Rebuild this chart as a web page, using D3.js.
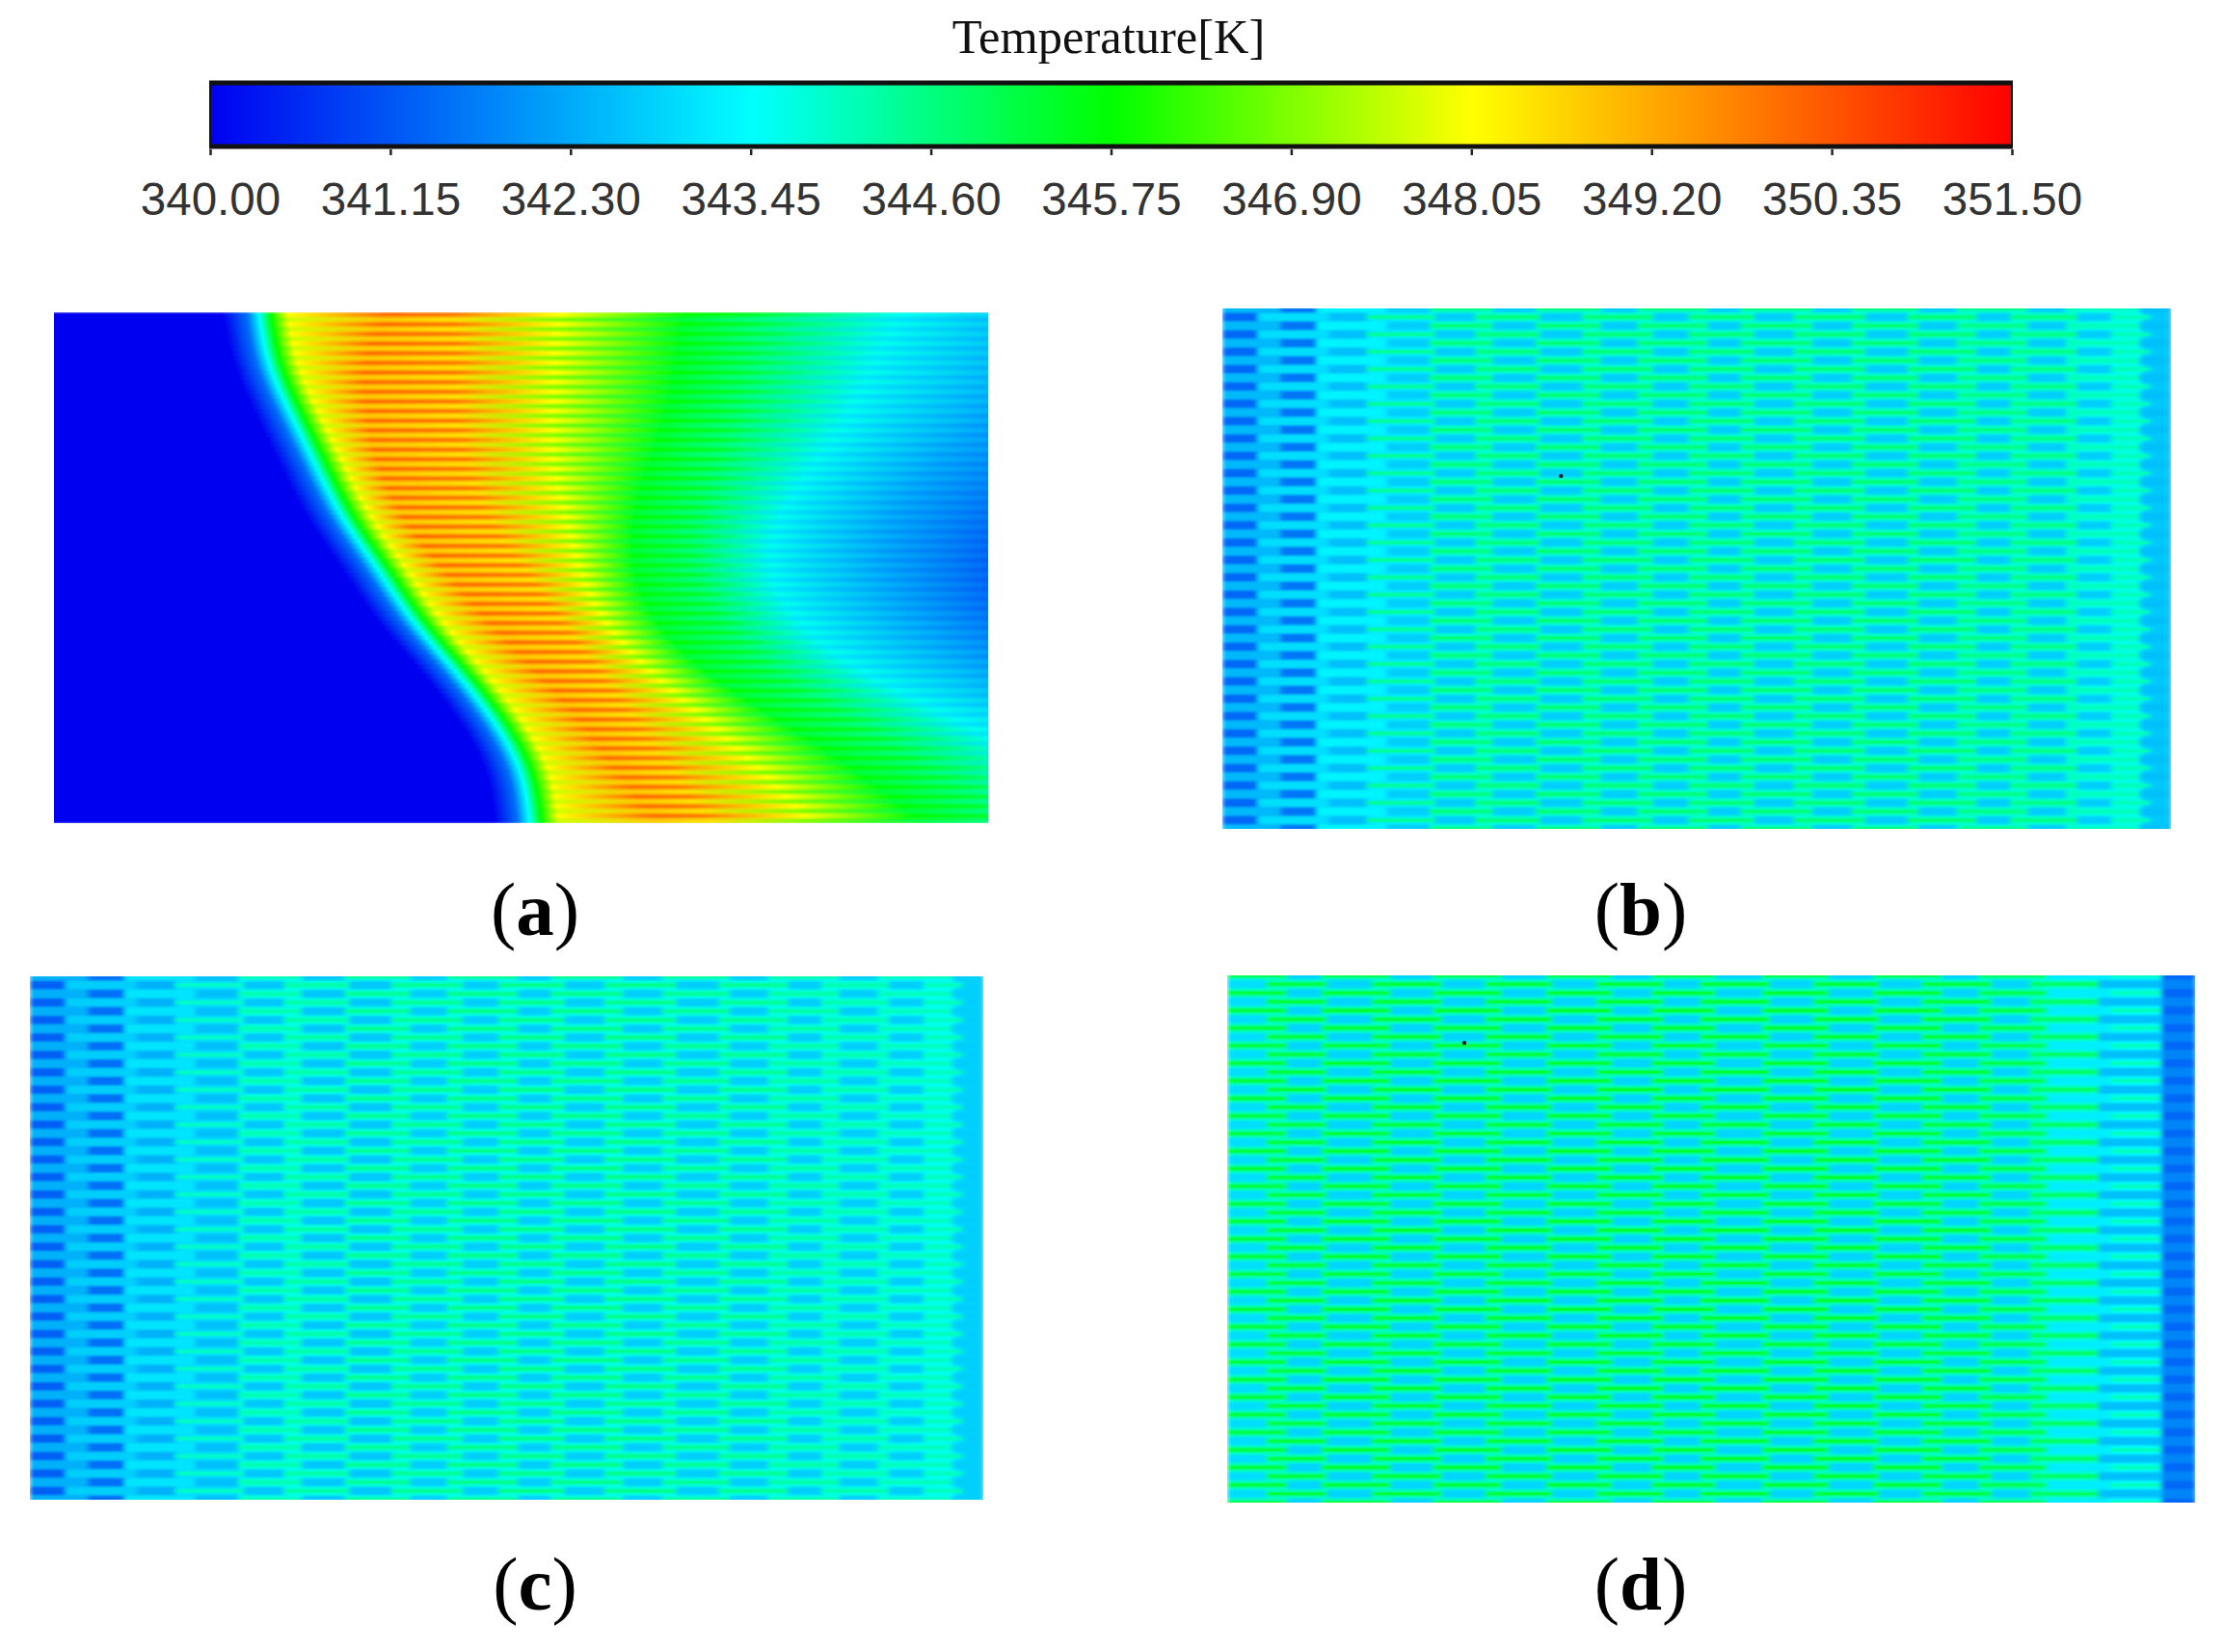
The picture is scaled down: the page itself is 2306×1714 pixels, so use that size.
<!DOCTYPE html>
<html>
<head>
<meta charset="utf-8">
<script src="https://cdn.jsdelivr.net/npm/d3@7"></script>
<style>
    body { margin: 0; background: #fff; }
    svg { display: block; }
</style>
</head>
<body>
<svg></svg>
<script>
// colour bar
const tickTemps = [340.00, 341.15, 342.30, 343.45, 344.60, 345.75, 346.90, 348.05, 349.20, 350.35, 351.50];
const colourTemps = [340, 343.45, 345.75, 348.05, 351.5];
const colourNames = ["#0000f0", "#00ffff", "#00ff00", "#ffff00", "#ff0000"];

// panel (a): isotherm positions (% of channel length), read every 10% of the channel width
const blueEdge = [18, 19, 21.5, 24.2, 26.8, 30.8, 34.2, 39.2, 43.5, 46.6, 47.2];
const iso3415 = [20.6, 21.4, 24, 26.7, 29.3, 33.3, 36.7, 41.6, 45.9, 49, 49.6];
const isoCyan = [21.9, 22.7, 25.3, 28, 30.6, 34.6, 38, 42.9, 47.2, 50.3, 50.9];
const isoFront = [23.2, 24, 26.6, 29.3, 31.9, 35.9, 39.3, 44.2, 48.5, 51.6, 52.2];
const isoYellow = [25, 25.8, 28.4, 31.1, 33.7, 37.7, 41.1, 46, 50.3, 53.4, 54];
const isoPeak = [35.7, 32.8, 33.5, 34.6, 37.1, 41.5, 46.2, 51.6, 56.7, 60.3, 64.7];
const isoPeakEnd = [43, 43, 43, 44, 46, 50, 54, 58, 62, 66, 70];
const isoYellow2 = [54, 53.7, 53.3, 53.3, 54.8, 56.2, 58.4, 63.5, 70, 76, 81];
const isoGreen = [67.6, 66.8, 65.8, 63.6, 62.1, 61.8, 63.9, 69, 77.7, 86.4, 93];
const isoGreen2 = [74.6, 73.8, 72.8, 70.6, 68.6, 67.8, 70.9, 76, 85.7, 94.4, 101];
const isoCyan2 = [90.6, 87.7, 85.5, 81.2, 77.5, 76.1, 79, 85.5, 97.1, 107, 122];
const iso3423 = [108, 105, 100, 94, 89, 88, 91, 99, 112, 126, 145];
const iso3414 = [130, 125, 118, 110, 103, 100, 103, 113, 128, 145, 170];

// panel (a): temperature at each isotherm, for the hot rows and the cooler rows between them
const crestTemps = [340, 341.5, 343.45, 345.75, 348.05, 350, 349.8, 348.05, 345.75, 345.4, 343.6, 342.4, 341.4];
const troughTemps = [340, 341.5, 343.45, 345.75, 347.6, 348.8, 348.5, 346.9, 345.2, 344.6, 343.1, 342.1, 341.2];

// panels (b), (c): brick edges (% of channel length) of the two alternating row types
const edgesRowA = [0, 3.7, 11.2, 15.2, 22.4, 26.6, 33.5, 37.9, 45.4, 49.1, 56.1, 60.2, 67.8, 72.2, 79.5, 83, 90.1, 93.7, 97.8, 100];
const edgesRowB = [0, 6.1, 9.9, 17.3, 21.8, 28.5, 33, 39.9, 43.7, 51.2, 54.6, 62.2, 66.3, 73.4, 77.4, 84.9, 88.9, 96.7, 100];
const tempsBRowA = [341.4, 343, 342.6, 344.5, 342.8, 344.7, 342.8, 344.8, 342.8, 344.8, 342.8, 344.8, 342.8, 344.8, 342.8, 344.6, 342.8, 344.1, 342.7];
const tempsBRowB = [342.5, 341.6, 343.3, 342.8, 344.7, 342.8, 344.8, 342.8, 344.8, 342.8, 344.8, 342.8, 344.8, 342.8, 344.6, 342.8, 344.1, 342.6];
const tempsCRowA = [341.3, 342.8, 342.4, 344, 342.7, 344.3, 342.7, 344.5, 342.8, 344.6, 342.8, 344.6, 342.8, 344.5, 342.8, 344.2, 342.8, 344.1, 342.8];
const tempsCRowB = [342.4, 341.5, 343.1, 342.6, 344.2, 342.7, 344.5, 342.8, 344.6, 342.8, 344.6, 342.8, 344.5, 342.8, 344.3, 342.8, 344.1, 342.8];

// the cooler walls between rows, by stretch of the channel
const wallEdges = [0, 6, 10, 15, 22, 90, 97, 100];
const wallTempsB = [342.2, 342.2, 342.9, 343.2, 343.9, 343.7, 342.8];
const wallTempsC = [342.2, 342.2, 342.8, 343, 343.7, 343.6, 343];
const wallEdgesD = [0, 84, 91, 96.5, 100];
const wallTempsD = [344, 343.9, 343.4, 341.9];

// panel (d)
const edgesDRowA = [0, 4, 10.3, 14.9, 22.2, 26.6, 33.6, 38.1, 45.1, 48.8, 56.1, 60.5, 67.4, 71.7, 79, 82.9, 90, 96.6, 100];
const edgesDRowB = [0, 6.2, 9.7, 16.9, 21.2, 28.4, 32.9, 39.8, 43.8, 50.5, 55.2, 62.2, 66.7, 73.9, 77.6, 84.7, 91.3, 96.5, 100];
const tempsDRowA = [343, 345.5, 342.9, 345.6, 342.9, 345.6, 342.9, 345.7, 342.9, 345.7, 342.9, 345.7, 342.9, 345.5, 342.9, 345, 342.6, 341.8];
const tempsDRowB = [345.5, 342.9, 345.6, 342.9, 345.6, 342.9, 345.7, 342.9, 345.7, 342.9, 345.7, 342.9, 345.6, 342.9, 345.2, 343.2, 344.1, 341.4];

// the small black probe dots, [% length, % width]
const dotsB = [[35.7, 32.2]];
const dotsD = [[24.5, 12.8]];

const width = 2306;
const height = 1714;

const svg = d3.select("svg")
    .attr("width", width)
    .attr("height", height);

const defs = svg.append("defs");

const colour = d3.scaleLinear()
    .domain(colourTemps)
    .range(colourNames)
    .clamp(true);

function addBlur(id, dev) {
    defs.append("filter")
        .attr("id", id)
        .attr("filterUnits", "userSpaceOnUse")
        .attr("x", 0).attr("y", 0)
        .attr("width", width).attr("height", height)
        .append("feGaussianBlur")
        .attr("stdDeviation", dev);
}
addBlur("blurA", "0.6 1.2");
addBlur("blurBricks", "2.5 1.2");

function addPanelGroup(id, box) {
    defs.append("clipPath").attr("id", "clip" + id)
        .append("rect")
        .attr("x", box.left).attr("y", box.top)
        .attr("width", box.right - box.left)
        .attr("height", box.bottom - box.top);
    return svg.append("g").attr("clip-path", `url(#clip${id})`);
}

// ---- colour bar ----
const bar = { left: 218, right: 2087, top: 85, bottom: 153 };
const barX = d3.scaleLinear()
    .domain([tickTemps[0], tickTemps[tickTemps.length - 1]])
    .range([bar.left, bar.right]);

const barGrad = defs.append("linearGradient")
    .attr("id", "barGrad")
    .attr("gradientUnits", "userSpaceOnUse")
    .attr("x1", bar.left).attr("x2", bar.right)
    .attr("y1", 0).attr("y2", 0);
barGrad.selectAll("stop")
    .data(colourTemps)
    .enter().append("stop")
    .attr("offset", d => (barX(d) - bar.left) / (bar.right - bar.left))
    .attr("stop-color", d => colour(d));

svg.append("rect")
    .attr("x", bar.left).attr("y", bar.top)
    .attr("width", bar.right - bar.left)
    .attr("height", bar.bottom - bar.top)
    .attr("fill", "url(#barGrad)")
    .attr("stroke", "#111")
    .attr("stroke-width", 2);
svg.selectAll(".barEdge")
    .data([bar.top + 1, bar.bottom - 1])
    .enter().append("line")
    .attr("class", "barEdge")
    .attr("x1", bar.left - 1).attr("x2", bar.right + 1)
    .attr("y1", d => d).attr("y2", d => d)
    .attr("stroke", "#111")
    .attr("stroke-width", 5);

const barAxis = svg.append("g")
    .attr("transform", `translate(0,${bar.bottom + 2})`)
    .call(d3.axisBottom(barX)
        .tickValues(tickTemps)
        .tickFormat(d3.format(".2f"))
        .tickSize(6)
        .tickPadding(28));
barAxis.select(".domain").remove();
barAxis.selectAll("line").attr("stroke", "#222").attr("stroke-width", 2.5);
barAxis.selectAll("text")
    .attr("fill", "#333")
    .style("font-family", "'Liberation Sans'")
    .style("font-size", "47.5px");

svg.append("text")
    .attr("x", 1150).attr("y", 55)
    .attr("text-anchor", "middle")
    .style("font-family", "'Liberation Serif'")
    .style("font-size", "50.5px")
    .attr("fill", "#111")
    .text("Temperature[K]");

// ---- panel (a): smooth field, one gradient per row ----
const boxA = { left: 56, right: 1025, top: 324, bottom: 854 };
const rowCountA = 106;
const isoColumns = [blueEdge, iso3415, isoCyan, isoFront, isoYellow, isoPeak, isoPeakEnd, isoYellow2, isoGreen, isoGreen2, isoCyan2, iso3423, iso3414];

const xA = d3.scaleLinear().domain([0, 100]).range([boxA.left, boxA.right]);
const rowA = d3.scaleLinear().domain([0, rowCountA]).range([boxA.top, boxA.bottom]);
const isoCurves = isoColumns.map(col => d3.interpolateBasis(col));
const maxPct = 180;

const groupA = addPanelGroup("A", boxA)
    .append("g")
    .attr("filter", "url(#blurA)");

d3.range(rowCountA).forEach(i => {
    const h = (i + 0.5) / rowCountA;
    const temps = i % 2 === 0 ? crestTemps : troughTemps;
    const grad = defs.append("linearGradient")
        .attr("id", "rowA" + i)
        .attr("gradientUnits", "userSpaceOnUse")
        .attr("x1", xA(0)).attr("x2", xA(maxPct))
        .attr("y1", 0).attr("y2", 0);
    grad.selectAll("stop")
        .data(temps)
        .enter().append("stop")
        .attr("offset", (d, k) => isoCurves[k](h) / maxPct)
        .attr("stop-color", d => colour(d));
    groupA.append("rect")
        .attr("x", boxA.left)
        .attr("y", rowA(i))
        .attr("width", boxA.right - boxA.left)
        .attr("height", rowA(i + 1) - rowA(i) + 0.5)
        .attr("fill", `url(#rowA${i})`);
});

// ---- panels (b), (c), (d): staggered bricks over the walls ----
function drawBricks(id, box, edgesA, tempsA, edgesB, tempsB, wEdges, wTemps, dots) {
    const rowCount = 60;
    const x = d3.scaleLinear().domain([0, 100]).range([box.left, box.right]);
    const y = d3.scaleLinear().domain([0, rowCount]).range([box.top, box.bottom]);
    const yPct = d3.scaleLinear().domain([0, 100]).range([box.top, box.bottom]);
    const rowHeight = y(1) - y(0);
    // cool bricks fill most of the row, the warm ones are only thin lines
    const brickShare = t => t < 343.8 ? 0.95 : 0.45;

    const g = addPanelGroup(id, box);
    const blurred = g.append("g").attr("filter", "url(#blurBricks)");

    blurred.selectAll(".wall")
        .data(d3.pairs(wEdges).map((e, k) => ({ x0: e[0], x1: e[1], t: wTemps[k] })))
        .enter().append("rect")
        .attr("class", "wall")
        .attr("x", d => x(d.x0))
        .attr("width", d => x(d.x1) - x(d.x0) + 0.5)
        .attr("y", box.top - 4)
        .attr("height", box.bottom - box.top + 8)
        .attr("fill", d => colour(d.t));

    const rows = blurred.selectAll(".row")
        .data(d3.range(rowCount + 1))
        .enter().append("g")
        .attr("class", "row");

    rows.selectAll("rect")
        .data(i => {
            const edges = i % 2 === 1 ? edgesA : edgesB;
            const temps = i % 2 === 1 ? tempsA : tempsB;
            return d3.pairs(edges).map((e, k) => ({ row: i, x0: e[0], x1: e[1], t: temps[k] }));
        })
        .enter().append("rect")
        .attr("x", d => x(d.x0))
        .attr("width", d => x(d.x1) - x(d.x0) + 0.5)
        .attr("y", d => y(d.row - brickShare(d.t) / 2))
        .attr("height", d => rowHeight * brickShare(d.t))
        .attr("fill", d => colour(d.t));

    g.selectAll("circle")
        .data(dots)
        .enter().append("circle")
        .attr("cx", d => x(d[0]))
        .attr("cy", d => yPct(d[1]))
        .attr("r", 2.2)
        .attr("fill", "#123");
}

drawBricks("B", { left: 1268, right: 2252, top: 320, bottom: 860 }, edgesRowA, tempsBRowA, edgesRowB, tempsBRowB, wallEdges, wallTempsB, dotsB);
drawBricks("C", { left: 31, right: 1020, top: 1013, bottom: 1556 }, edgesRowA, tempsCRowA, edgesRowB, tempsCRowB, wallEdges, wallTempsC, []);
drawBricks("D", { left: 1273, right: 2277, top: 1012, bottom: 1559 }, edgesDRowA, tempsDRowA, edgesDRowB, tempsDRowB, wallEdgesD, wallTempsD, dotsD);

// ---- panel labels ----
const panelLabels = ["a", "b", "c", "d"];
const labelX = d3.scalePoint().domain(["a", "b"]).range([555, 1702]);
const labelY = { a: 970, b: 970, c: 1670, d: 1670 };

const labels = svg.selectAll(".panelLabel")
    .data(panelLabels)
    .enter().append("text")
    .attr("class", "panelLabel")
    .attr("x", d => labelX(d === "a" || d === "c" ? "a" : "b"))
    .attr("y", d => labelY[d])
    .attr("text-anchor", "middle")
    .style("font-family", "'Liberation Serif'")
    .style("font-size", "79px")
    .attr("fill", "#000");
labels.append("tspan").text("(");
labels.append("tspan").attr("font-weight", "bold").text(d => d);
labels.append("tspan").text(")");
</script>
</body>
</html>
